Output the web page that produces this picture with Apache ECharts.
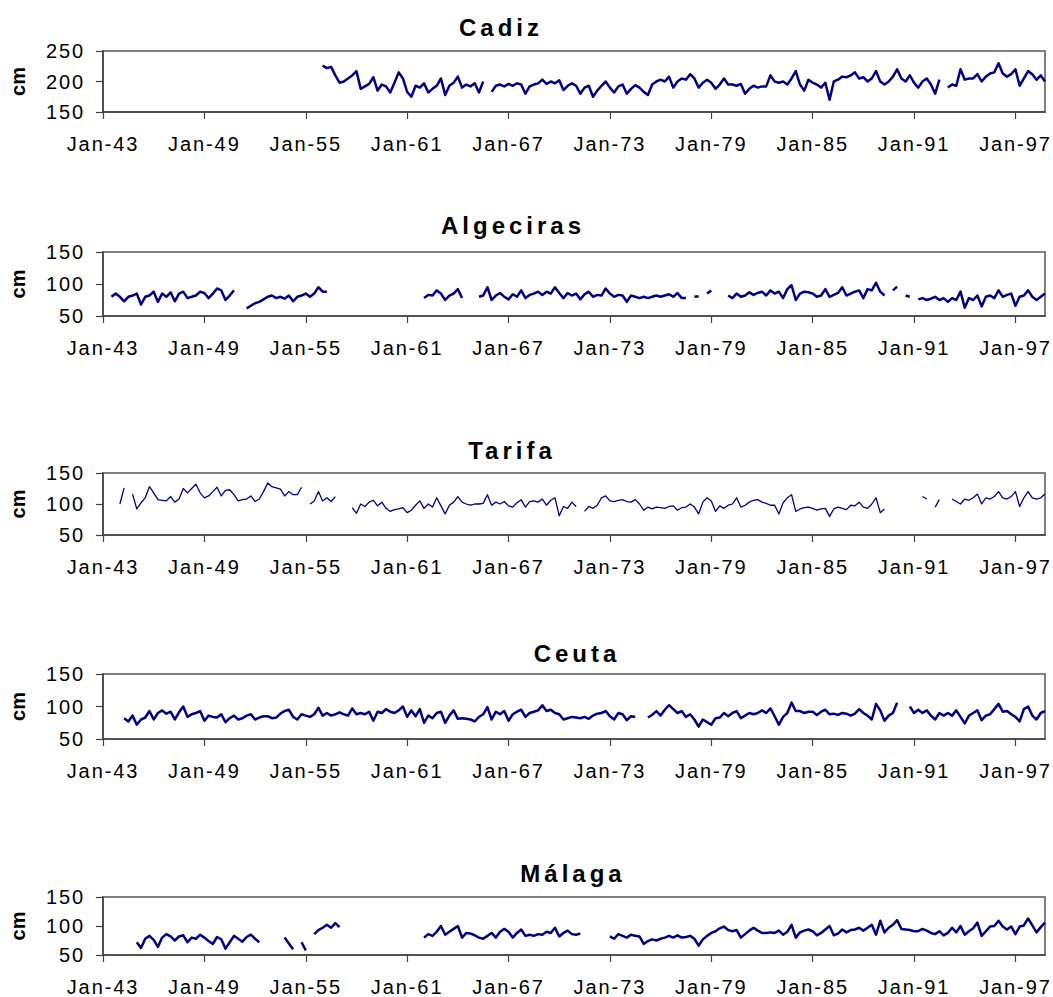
<!DOCTYPE html>
<html>
<head>
<meta charset="utf-8">
<script src="https://cdn.jsdelivr.net/npm/echarts@6/dist/echarts.min.js"></script>
<style>
  html, body { margin: 0; padding: 0; background: #ffffff; }
  #chart { width: 1053px; height: 997px; }
</style>
</head>
<body>
<div id="chart"></div>
<script>
const _ = null;

// Quarterly categories Jan-43 ... Oct-98
const monthNames = ['Jan', 'Apr', 'Jul', 'Oct'];
const categories = [];
for (let y = 1943; y <= 1998; y++) {
  for (const m of monthNames) categories.push(m + '-' + String(y).slice(2));
}
const tickLabels = ['Jan-43','Jan-49','Jan-55','Jan-61','Jan-67','Jan-73','Jan-79','Jan-85','Jan-91','Jan-97'];

const stationNames = ['Cadiz', 'Algeciras', 'Tarifa', 'Ceuta', 'Málaga'];

const cadiz = [
  _,_,_,_,_,_,_,_,_,_,
  _,_,_,_,_,_,_,_,_,_,
  _,_,_,_,_,_,_,_,_,_,
  _,_,_,_,_,_,_,_,_,_,
  _,_,_,_,_,_,_,_,_,_,
  _,_,226,222,224,210,198,200,205,210,
  217,188,192,196,207,185,195,192,182,198,
  215,205,183,175,193,190,197,182,188,193,
  205,178,193,198,208,190,195,192,197,182,
  200,_,183,193,195,192,196,193,197,195,
  180,192,195,197,203,196,200,197,202,186,
  193,197,193,180,190,193,175,185,193,200,
  190,182,192,195,180,188,194,190,183,178,
  195,200,203,200,208,190,200,205,203,212,
  205,190,198,203,198,188,195,205,195,195,
  193,196,180,188,193,190,192,192,210,200,
  198,200,195,205,217,195,185,203,198,195,
  190,198,170,200,203,208,207,210,215,205,
  207,200,205,217,200,195,200,208,220,205,
  200,210,198,190,200,205,195,180,203,_,
  190,195,193,220,203,205,205,212,200,208,
  213,215,230,213,208,212,220,193,205,217,
  212,203,210,200
];

const algeciras = [
  _,_,80,85,80,73,80,82,85,68,
  80,82,88,72,85,80,87,73,85,88,
  78,80,82,88,86,78,85,93,90,75,
  82,90,_,_,62,66,70,72,76,80,
  82,78,80,77,82,73,80,82,85,80,
  85,95,88,88,_,_,_,_,_,_,
  _,_,_,_,_,_,_,_,_,_,
  _,_,_,_,_,_,78,83,82,90,
  85,75,82,85,92,78,_,_,_,80,
  82,95,75,82,86,80,76,84,80,90,
  78,83,85,88,83,88,85,95,86,78,
  86,82,85,76,84,88,80,83,82,93,
  85,80,83,82,72,82,80,78,80,78,
  80,82,80,82,84,80,86,78,78,_,
  80,81,_,85,90,_,_,_,82,78,
  85,80,82,87,83,86,88,82,90,85,
  88,78,92,98,75,85,88,87,85,80,
  82,92,80,83,86,95,82,85,88,90,
  78,92,90,102,88,82,_,90,96,_,
  82,80,_,76,78,75,77,80,75,78,
  72,78,75,88,63,78,75,82,65,80,
  82,78,90,80,83,85,66,80,82,90,
  80,75,80,85
];

const tarifa = [
  _,_,_,_,100,126,_,116,92,102,
  110,128,118,107,106,105,112,103,108,125,
  118,125,132,118,110,113,120,127,113,122,
  123,115,105,107,108,113,104,108,120,134,
  128,126,124,113,120,115,115,127,_,100,
  105,120,105,110,104,112,_,_,_,94,
  85,100,96,103,106,97,103,93,88,91,
  92,94,86,90,98,105,93,100,95,110,
  97,84,98,103,112,103,100,98,100,100,
  101,115,98,103,100,104,97,95,102,107,
  95,104,105,103,108,98,106,110,81,96,
  93,103,96,_,88,96,93,98,110,113,
  105,104,106,107,104,103,107,100,90,95,
  92,95,94,93,96,97,90,94,95,100,
  95,84,103,110,105,88,97,93,98,100,
  110,95,98,103,106,107,103,101,98,98,
  84,102,110,115,88,92,94,95,93,90,
  92,93,80,92,95,93,91,98,97,103,
  95,93,100,110,86,92,_,_,_,_,
  _,_,_,_,112,108,_,95,107,_,
  _,108,104,100,108,106,110,116,100,110,
  108,112,120,110,108,112,120,96,110,120,
  110,108,110,116
];

const ceuta = [
  _,_,_,_,_,82,77,86,72,80,
  83,93,80,90,94,89,92,80,91,100,
  84,88,90,93,78,86,84,83,88,76,
  82,86,80,82,86,88,80,83,85,85,
  82,83,89,93,95,84,80,88,86,84,
  88,98,86,90,86,88,91,88,86,97,
  88,90,88,92,78,92,90,96,92,90,
  94,100,84,94,85,96,75,86,82,90,
  92,75,86,94,81,82,81,80,77,84,
  88,99,80,92,88,93,78,88,92,95,
  84,90,92,94,102,93,95,90,88,80,
  82,84,83,82,84,81,86,89,90,93,
  85,80,90,88,79,85,84,_,_,83,
  87,93,86,95,102,96,90,93,84,88,
  80,69,80,76,72,82,83,90,85,90,
  93,82,86,90,88,90,94,90,97,85,
  72,84,90,106,93,93,90,92,92,87,
  92,95,88,89,87,90,89,86,89,96,
  90,86,80,104,94,78,86,90,106,_,
  _,100,90,95,90,94,86,80,90,86,
  90,86,94,84,74,86,90,94,79,86,
  88,96,104,92,93,88,84,77,96,100,
  86,80,90,93
];

const malaga = [
  _,_,_,_,_,_,_,_,72,62,
  78,83,76,64,80,86,82,75,82,84,
  72,80,78,85,80,74,69,81,77,61,
  72,83,78,73,81,85,78,72,_,_,
  _,_,_,80,70,60,_,72,58,_,
  86,93,97,102,97,105,98,_,_,_,
  _,_,_,_,_,_,_,_,_,_,
  _,_,_,_,_,_,80,86,83,90,
  100,85,90,95,100,80,88,87,84,80,
  78,83,88,80,90,95,90,80,88,94,
  83,85,83,86,85,90,88,97,82,88,
  92,86,85,87,_,_,_,_,_,_,
  82,78,86,83,80,85,83,82,69,74,
  77,75,78,80,83,80,84,80,81,83,
  78,66,77,83,88,91,96,99,93,91,
  93,80,86,92,97,92,88,88,89,88,
  92,85,90,102,80,89,92,94,91,84,
  88,94,100,84,87,94,89,93,94,97,
  92,97,102,85,109,89,97,102,110,95,
  94,93,91,91,95,92,88,86,91,84,
  88,97,89,100,85,91,96,106,83,91,
  99,100,109,99,94,99,86,99,101,113,
  101,89,98,106
];

const seriesData = [cadiz, algeciras, tarifa, ceuta, malaga];
const yMins = [150, 50, 50, 50, 50];
const yMaxs = [250, 150, 150, 150, 150];

// layout (pixels)
const gridTops = [51, 252, 473, 674, 897];
const gridHeights = [61, 64, 62, 65, 61];
const titleX = [501, 513, 512, 577, 573];
const titleY = [27, 225, 450, 653, 873];
const lineWidths = [2.5, 2.5, 1.3, 2.5, 2.5];

const FONT = '"Liberation Sans", Arial, Helvetica, sans-serif';
const axisColor = '#404040';

const grids = [], xAxes = [], yAxes = [], series = [], graphics = [];
for (let i = 0; i < 5; i++) {
  grids.push({
    left: 103, right: 8, top: gridTops[i], height: gridHeights[i],
    show: true, borderColor: '#808080', borderWidth: 2, backgroundColor: 'transparent'
  });
  xAxes.push({
    type: 'category', gridIndex: i, data: categories, boundaryGap: false,
    axisLine: { show: true, lineStyle: { color: axisColor, width: 1.5 } },
    axisTick: { show: true, interval: 23, length: 7, lineStyle: { color: axisColor, width: 1.2 } },
    axisLabel: {
      interval: 23, margin: 22, fontSize: 20, color: '#000', fontFamily: FONT,
      formatter: v => tickLabels.includes(v) ? v : ''
    },
    splitLine: { show: false }
  });
  yAxes.push({
    type: 'value', gridIndex: i, min: yMins[i], max: yMaxs[i], interval: 50,
    name: 'cm', nameLocation: 'middle', nameGap: 75, nameRotate: 90,
    nameTextStyle: { fontSize: 20, fontWeight: 'bold', color: '#000', fontFamily: FONT },
    axisLine: { show: true, lineStyle: { color: axisColor, width: 1.5 } },
    axisTick: { show: true, length: 7, lineStyle: { color: axisColor, width: 1.2 } },
    axisLabel: { margin: 18, fontSize: 20, color: '#000', fontFamily: FONT },
    splitLine: { show: false }
  });
  series.push({
    type: 'line', xAxisIndex: i, yAxisIndex: i, data: seriesData[i],
    name: stationNames[i],
    showSymbol: false, symbol: 'none', connectNulls: false,
    lineStyle: { color: '#000080', width: lineWidths[i], join: 'round' },
    itemStyle: { color: '#000080' }
  });
  graphics.push({
    type: 'text', x: titleX[i], y: titleY[i],
    style: {
      text: stationNames[i], fill: '#000',
      font: 'bold 24px ' + FONT,
      textAlign: 'center', textVerticalAlign: 'middle',
      align: 'center', verticalAlign: 'middle'
    }
  });
}

const chart = echarts.init(document.getElementById('chart'), null, { renderer: 'svg' });
chart.setOption({
  animation: false,
  backgroundColor: '#ffffff',
  grid: grids,
  xAxis: xAxes,
  yAxis: yAxes,
  series: series,
  graphic: graphics
});

function spaceText() {
  document.querySelectorAll('#chart text').forEach(el => {
    const cs = getComputedStyle(el);
    const fs = parseFloat(cs.fontSize);
    const bold = (cs.fontWeight === 'bold' || parseInt(cs.fontWeight, 10) >= 600);
    if (bold && fs >= 23) el.style.letterSpacing = '4px';
    else if (!bold) el.style.letterSpacing = '1.9px';
  });
}
spaceText();
chart.on('finished', spaceText);
</script>
</body>
</html>
